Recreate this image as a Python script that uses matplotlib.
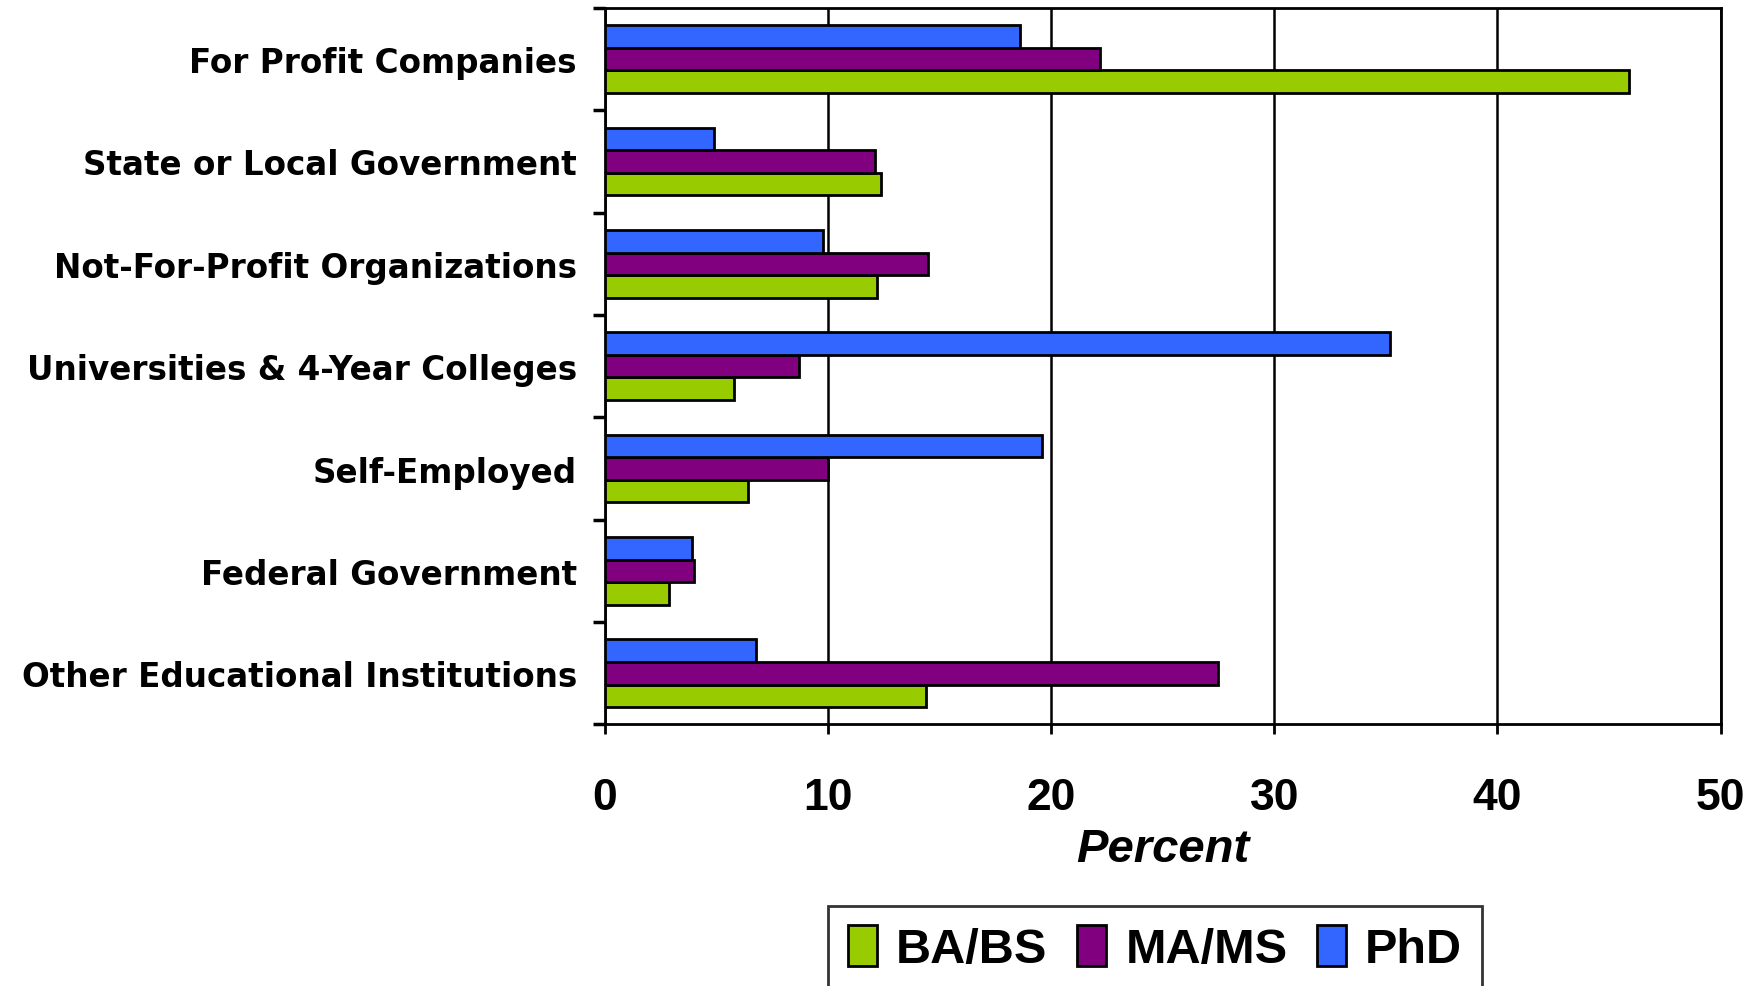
import numpy as np
import matplotlib.pyplot as plt
from matplotlib.ticker import FixedLocator

categories = ['For Profit Companies', 'State or Local Government',
              'Not-For-Profit Organizations', 'Universities & 4-Year Colleges',
              'Self-Employed', 'Federal Government', 'Other Educational Institutions']
ba_bs = [45.9, 12.4, 12.2, 5.8, 6.4, 2.9, 14.4]
ma_ms = [22.2, 12.1, 14.5, 8.7, 10.0, 4.0, 27.5]
phd = [18.6, 4.9, 9.8, 35.2, 19.6, 3.9, 6.8]
xticks = [0, 10, 20, 30, 40, 50]

fig = plt.figure(figsize=(17.63, 9.87), dpi=100)
ax = fig.add_axes([0.343, 0.265, 0.633, 0.726])

y = np.arange(len(categories))[::-1]
h = 0.22
kw = dict(height=h, edgecolor='black', linewidth=2, zorder=3)
b1 = ax.barh(y - h, ba_bs, color='#99CC00', label='BA/BS', **kw)
b2 = ax.barh(y, ma_ms, color='#800080', label='MA/MS', **kw)
b3 = ax.barh(y + h, phd, color='#3366FF', label='PhD', **kw)

ax.set_xlim(0, 50)
ax.set_ylim(-0.5, len(categories) - 0.5)
ax.set_xticks(xticks)
ax.set_xticklabels([str(t) for t in xticks], fontfamily='Liberation Sans',
                   fontweight='bold', fontsize=32)
ax.xaxis.grid(True, color='black', linewidth=1.8, zorder=0)
ax.tick_params(axis='x', length=7, width=2, pad=31)

ax.set_yticks(y)
ax.set_yticklabels(categories, fontfamily='DejaVu Sans', fontweight='bold', fontsize=23.5)
ax.tick_params(axis='y', which='major', length=0, pad=20)
ax.yaxis.set_minor_locator(FixedLocator(np.arange(-0.5, len(categories), 1.0)))
ax.tick_params(axis='y', which='minor', length=9, width=2.5)

for s in ax.spines.values():
    s.set_linewidth(2)
    s.set_color('black')

ax.set_xlabel('Percent', fontfamily='Liberation Sans', fontweight='bold',
              fontstyle='italic', fontsize=34, labelpad=6)

leg = fig.legend(handles=[b1, b2, b3], loc='upper left', bbox_to_anchor=(0.4697, 0.081),
                 ncol=3, frameon=True, fancybox=False, edgecolor='black',
                 prop=dict(family='Liberation Sans', weight='bold', size=35),
                 handlelength=0.6, handleheight=0.9, handletextpad=0.4,
                 columnspacing=0.6, borderpad=0.4, borderaxespad=0)
leg.get_frame().set_linewidth(2)

fig.savefig('out.png', dpi=100)
